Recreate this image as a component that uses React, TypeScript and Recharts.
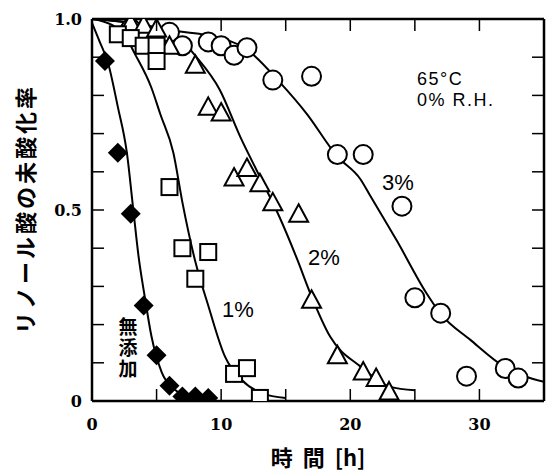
import {
  ComposedChart,
  Line,
  Scatter,
  XAxis,
  YAxis,
  ReferenceLine,
} from "recharts";

// measured points (time [h], unoxidised fraction)
const noAdditive = [
  { x: 1, y: 0.89 }, { x: 2, y: 0.65 }, { x: 3, y: 0.49 }, { x: 4, y: 0.25 },
  { x: 5, y: 0.12 }, { x: 6, y: 0.04 }, { x: 7, y: 0.012 }, { x: 8, y: 0.012 },
  { x: 9, y: 0.008 },
];
const pct1 = [
  { x: 2, y: 0.96 }, { x: 3, y: 0.95 }, { x: 4, y: 0.93 }, { x: 5, y: 0.93 },
  { x: 5, y: 0.89 }, { x: 6, y: 0.56 }, { x: 7, y: 0.4 }, { x: 8, y: 0.32 },
  { x: 9, y: 0.39 }, { x: 11, y: 0.071 }, { x: 12, y: 0.086 }, { x: 13, y: 0.008 },
];
const pct2 = [
  { x: 3, y: 0.99 }, { x: 4, y: 0.985 }, { x: 5, y: 0.975 }, { x: 6, y: 0.93 },
  { x: 8, y: 0.88 }, { x: 9, y: 0.77 }, { x: 10, y: 0.755 }, { x: 11, y: 0.585 },
  { x: 12, y: 0.61 }, { x: 13, y: 0.57 }, { x: 14, y: 0.52 }, { x: 16, y: 0.49 },
  { x: 17, y: 0.265 }, { x: 19, y: 0.12 }, { x: 21, y: 0.077 }, { x: 22, y: 0.06 },
  { x: 23, y: 0.025 },
];
const pct3 = [
  { x: 3, y: 0.975 }, { x: 6, y: 0.965 }, { x: 7, y: 0.93 }, { x: 9, y: 0.94 },
  { x: 10, y: 0.93 }, { x: 11, y: 0.905 }, { x: 12, y: 0.925 }, { x: 14, y: 0.84 },
  { x: 17, y: 0.85 }, { x: 19, y: 0.645 }, { x: 21, y: 0.645 }, { x: 24, y: 0.51 },
  { x: 25, y: 0.27 }, { x: 27, y: 0.23 }, { x: 29, y: 0.065 }, { x: 32, y: 0.085 },
  { x: 33, y: 0.06 },
];

// fitted curves
const curveNone = [
  { x: 0, y: 0.99 }, { x: 0.6, y: 0.94 }, { x: 1.2, y: 0.89 }, { x: 2, y: 0.77 },
  { x: 2.7, y: 0.65 }, { x: 3.2, y: 0.5 }, { x: 3.6, y: 0.38 }, { x: 4.1, y: 0.27 },
  { x: 4.6, y: 0.17 }, { x: 5.4, y: 0.075 }, { x: 6.4, y: 0.03 }, { x: 7.5, y: 0.012 },
];
const curve1 = [
  { x: 0, y: 1.0 }, { x: 1.5, y: 0.985 }, { x: 2.5, y: 0.96 }, { x: 3.3, y: 0.91 },
  { x: 4.6, y: 0.82 }, { x: 5.3, y: 0.75 }, { x: 6.3, y: 0.65 }, { x: 7, y: 0.52 },
  { x: 8, y: 0.365 }, { x: 9, y: 0.25 }, { x: 10.3, y: 0.116 }, { x: 11.6, y: 0.055 },
  { x: 13.2, y: 0.02 }, { x: 15, y: 0.008 },
];
const curve2 = [
  { x: 0, y: 1.0 }, { x: 3, y: 0.99 }, { x: 5, y: 0.975 }, { x: 7.1, y: 0.94 },
  { x: 7.85, y: 0.91 }, { x: 9.9, y: 0.814 }, { x: 11.5, y: 0.69 }, { x: 13, y: 0.587 },
  { x: 14.5, y: 0.483 }, { x: 15.9, y: 0.37 }, { x: 16.9, y: 0.282 }, { x: 18.45, y: 0.168 },
  { x: 20.8, y: 0.09 }, { x: 23.1, y: 0.037 }, { x: 25, y: 0.028 },
];
const curve3 = [
  { x: 0, y: 1.0 }, { x: 3, y: 0.99 }, { x: 6.8, y: 0.967 }, { x: 8.8, y: 0.958 },
  { x: 12, y: 0.92 }, { x: 14.6, y: 0.832 }, { x: 16.6, y: 0.753 }, { x: 19, y: 0.64 },
  { x: 20.8, y: 0.58 }, { x: 21.5, y: 0.54 }, { x: 23.6, y: 0.42 }, { x: 25.9, y: 0.282 },
  { x: 27, y: 0.228 }, { x: 29.3, y: 0.16 }, { x: 31.9, y: 0.09 }, { x: 35, y: 0.05 },
];

const xTicks = [0, 5, 10, 15, 20, 25, 30];
const xLabels = [0, 10, 20, 30];
const yTicks = [0, 0.1, 0.2, 0.3, 0.4, 0.5, 0.6, 0.7, 0.8, 0.9, 1.0];
const yLabels: Record<string, string> = { "0": "0", "0.5": "0.5", "1": "1.0" };

const W = 546;
const H = 471;
const PLOT_TOP = 19;
const PLOT_RIGHT = 544;
const TICK = 12;
const tickFont = { fontFamily: "'DejaVu Serif', serif", fontWeight: 700, fontSize: 16 };
const jpFont = "'Noto Sans CJK JP', sans-serif";

const XTick = ({ x, y, payload }: any) => (
  <g>
    <line x1={x} x2={x} y1={y} y2={y - TICK} stroke="#000" strokeWidth={1.5} />
    <line x1={x} x2={x} y1={PLOT_TOP} y2={PLOT_TOP + TICK} stroke="#000" strokeWidth={1.5} />
    {xLabels.includes(payload.value) && (
      <text x={x} y={y + 29} textAnchor="middle" {...tickFont} fill="#000">
        {payload.value}
      </text>
    )}
  </g>
);

const YTick = ({ x, y, payload }: any) => {
  const label = yLabels[String(payload.value)];
  return (
    <g>
      <line x1={x} x2={x + TICK} y1={y} y2={y} stroke="#000" strokeWidth={1.5} />
      <line x1={PLOT_RIGHT - TICK} x2={PLOT_RIGHT} y1={y} y2={y} stroke="#000" strokeWidth={1.5} />
      {label && (
        <text x={x - 10} y={y + 6} textAnchor="end" {...tickFont} fill="#000">
          {label}
        </text>
      )}
    </g>
  );
};

const diamond = ({ cx, cy }: any) => (
  <path d={`M${cx},${cy - 10}L${cx + 10},${cy}L${cx},${cy + 10}L${cx - 10},${cy}Z`} fill="#000" />
);
const square = ({ cx, cy }: any) => (
  <rect x={cx - 8} y={cy - 8} width={16} height={16} fill="#fff" stroke="#000" strokeWidth={2} />
);
const triangle = ({ cx, cy }: any) => (
  <path d={`M${cx},${cy - 9.5}L${cx + 9.5},${cy + 8}L${cx - 9.5},${cy + 8}Z`} fill="#fff" stroke="#000" strokeWidth={2} />
);
const circle = ({ cx, cy }: any) => (
  <circle cx={cx} cy={cy} r={9.5} fill="#fff" stroke="#000" strokeWidth={2} />
);

export default function App() {
  const curves = [curveNone, curve1, curve2, curve3];
  return (
    <div style={{ position: "absolute", left: 0, top: 0, width: W, height: H, background: "#fff" }}>
      <ComposedChart width={W} height={H} margin={{ top: PLOT_TOP, right: 2, bottom: 40, left: 32 }}>
        <XAxis
          type="number"
          dataKey="x"
          domain={[0, 35]}
          ticks={xTicks}
          interval={0}
          allowDataOverflow
          height={30}
          tickSize={0}
          tickMargin={0}
          tickLine={false}
          axisLine={{ stroke: "#000", strokeWidth: 2.5 }}
          tick={(p: any) => <XTick {...p} />}
        />
        <YAxis
          type="number"
          dataKey="y"
          domain={[0, 1]}
          ticks={yTicks}
          interval={0}
          allowDataOverflow
          width={60}
          tickSize={0}
          tickMargin={0}
          tickLine={false}
          axisLine={{ stroke: "#000", strokeWidth: 2.5 }}
          tick={(p: any) => <YTick {...p} />}
        />
        <ReferenceLine y={1} stroke="#000" strokeWidth={2.5} />
        <ReferenceLine x={35} stroke="#000" strokeWidth={2.5} />
        {curves.map((c, i) => (
          <Line
            key={i}
            data={c}
            dataKey="y"
            type="monotone"
            stroke="#000"
            strokeWidth={2}
            dot={false}
            activeDot={false}
            isAnimationActive={false}
          />
        ))}
        <Scatter data={pct3} shape={circle} isAnimationActive={false} />
        <Scatter data={pct2} shape={triangle} isAnimationActive={false} />
        <Scatter data={pct1} shape={square} isAnimationActive={false} />
        <Scatter data={noAdditive} shape={diamond} isAnimationActive={false} />
      </ComposedChart>
      <svg
        width={W}
        height={H}
        style={{ position: "absolute", left: 0, top: 0, pointerEvents: "none" }}
      >
        <text
          transform="translate(34,209) rotate(-90)"
          textAnchor="middle"
          fontFamily={jpFont}
          fontWeight={700}
          fontSize={22}
          letterSpacing={3}
        >
          リノール酸の未酸化率
        </text>
        <text x={318} y={466} textAnchor="middle" fontFamily={jpFont} fontWeight={700} fontSize={22} wordSpacing={5}>
          時 間 [h]
        </text>
        <g fontFamily="'Liberation Sans', Arial, sans-serif" fill="#000">
          <text x={417} y={85} fontSize={18} letterSpacing={1.5}>65°C</text>
          <text x={417} y={106} fontSize={18} letterSpacing={1.5}>0% R.H.</text>
          <text x={382} y={190} fontSize={22}>3%</text>
          <text x={308} y={265} fontSize={22}>2%</text>
          <text x={222} y={317} fontSize={22}>1%</text>
        </g>
        <text
          x={128}
          y={317}
          fontFamily={jpFont}
          fontWeight={700}
          fontSize={19}
          letterSpacing={2}
          style={{ writingMode: "vertical-rl" }}
        >
          無添加
        </text>
      </svg>
    </div>
  );
}
